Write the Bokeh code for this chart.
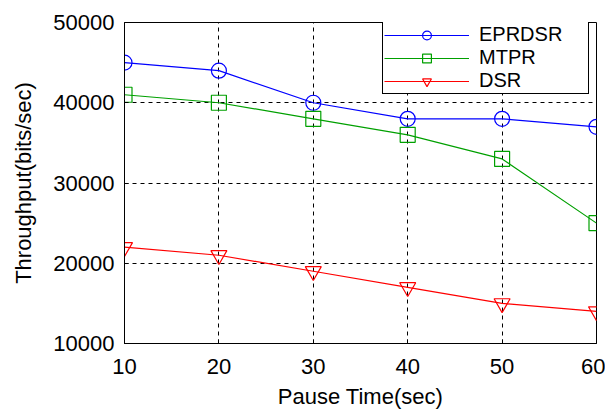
from bokeh.plotting import figure
from bokeh.models import FixedTicker, Legend, LegendItem, Range1d
from bokeh.embed import file_html
from bokeh.resources import INLINE

pause_time = [10, 20, 30, 40, 50, 60]
eprdsr = [45000, 44000, 40000, 38000, 38000, 37000]
mtpr = [41000, 40000, 38000, 36000, 33000, 25000]
dsr = [22000, 21000, 19000, 17000, 15000, 14000]
x_ticks = [10, 20, 30, 40, 50, 60]
y_ticks = [10000, 20000, 30000, 40000, 50000]

FONT = "Liberation Sans"
FS = "22px"

p = figure(width=605, height=414, output_backend="svg", toolbar_location=None,
           x_range=Range1d(10, 60), y_range=Range1d(10000, 50000),
           min_border_left=124, min_border_right=9, min_border_top=22,
           min_border_bottom=71)

p.background_fill_color = "white"
p.border_fill_color = "white"
p.outline_line_color = "black"
p.outline_line_alpha = 1
p.outline_line_width = 1

for ax in (p.xaxis[0], p.yaxis[0]):
    ax.axis_line_color = "black"
    ax.major_tick_line_color = "black"
    ax.major_tick_in = 4
    ax.major_tick_out = 0
    ax.minor_tick_line_color = None
    ax.major_label_text_font = FONT
    ax.major_label_text_font_size = FS
    ax.major_label_text_color = "black"
    ax.axis_label_text_font = FONT
    ax.axis_label_text_font_size = FS
    ax.axis_label_text_font_style = "normal"
    ax.axis_label_text_color = "black"

p.xaxis.ticker = FixedTicker(ticks=x_ticks)
p.yaxis.ticker = FixedTicker(ticks=y_ticks)
p.xaxis.axis_label = "Pause Time(sec)"
p.yaxis.axis_label = "Throughput(bits/sec)"
p.xaxis.major_label_standoff = 15
p.yaxis.major_label_standoff = 10
p.xaxis.axis_label_standoff = 7
p.yaxis.axis_label_standoff = 14

p.grid.grid_line_color = "black"
p.grid.grid_line_dash = "4 4"
p.grid.grid_line_width = 1
p.grid.grid_line_alpha = 1
p.xgrid.ticker = FixedTicker(ticks=x_ticks)
p.ygrid.ticker = FixedTicker(ticks=y_ticks)

l1 = p.line(pause_time, eprdsr, line_color="#0000ff", line_width=1.2)
m1 = p.scatter(pause_time, eprdsr, marker="circle", size=15, fill_color=None,
               line_color="#0000ff", line_width=1.2)
l2 = p.line(pause_time, mtpr, line_color="#00a000", line_width=1.2)
m2 = p.scatter(pause_time, mtpr, marker="square", size=15, fill_color=None,
               line_color="#00a000", line_width=1.2)
l3 = p.line(pause_time, dsr, line_color="#ff0000", line_width=1.2)
m3 = p.scatter(pause_time, dsr, marker="inverted_triangle", size=16, fill_color=None,
               line_color="#ff0000", line_width=1.2)

legend = Legend(items=[
    LegendItem(label="EPRDSR", renderers=[l1, m1]),
    LegendItem(label="MTPR", renderers=[l2, m2]),
    LegendItem(label="DSR", renderers=[l3, m3]),
], location=(258, 249))
legend.label_text_font = FONT
legend.label_text_font_size = "20px"
legend.label_text_color = "black"
legend.border_line_color = "black"
legend.border_line_alpha = 1
legend.border_line_width = 1
legend.background_fill_color = "white"
legend.background_fill_alpha = 1
legend.padding = 1
legend.margin = 0
legend.spacing = 0
legend.glyph_width = 85
legend.glyph_height = 22
legend.label_height = 18
legend.label_standoff = 10
legend.label_width = 108
p.add_layout(legend)

open("out.html", "w").write(file_html(p, INLINE))
